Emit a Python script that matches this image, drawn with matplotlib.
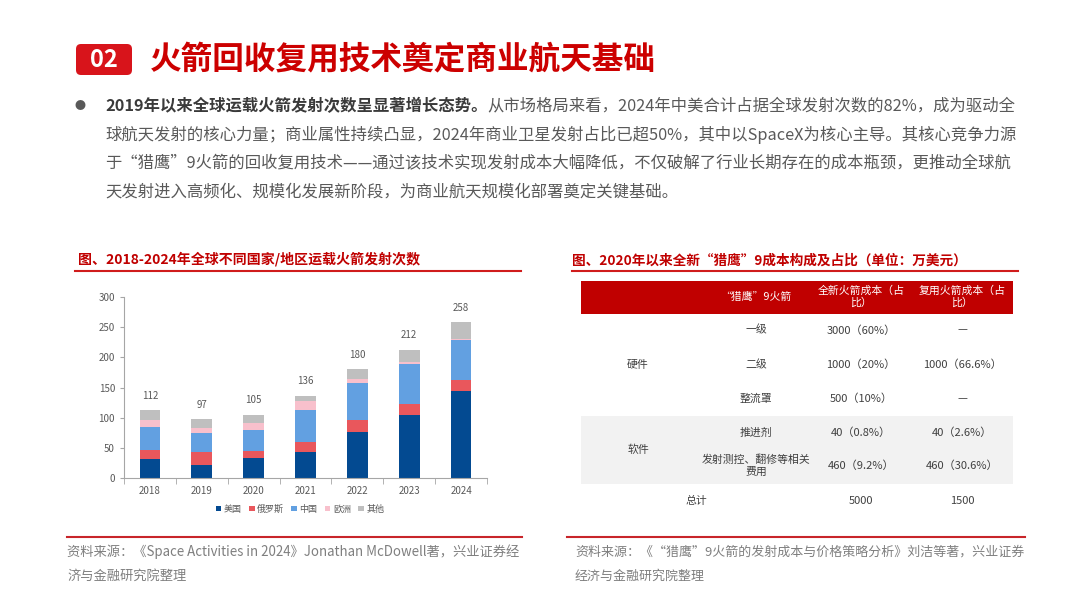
import numpy as np
import matplotlib.pyplot as plt
from matplotlib.patches import FancyBboxPatch, Rectangle
from matplotlib.lines import Line2D

plt.rcParams['font.family'] = ['Noto Sans CJK SC', 'DejaVu Sans']

# ---- bar chart data ----
years = ['2018', '2019', '2020', '2021', '2022', '2023', '2024']
usa = [31, 21, 33, 43, 76, 104, 145]
russia = [16, 22, 12, 17, 20, 19, 17]
china = [38, 32, 35, 52, 62, 66, 66]
europe = [11, 8, 11, 15, 6, 4, 3]
other = [16, 14, 14, 9, 16, 19, 27]
series_names = ['美国', '俄罗斯', '中国', '欧洲', '其他']
series_colors = ['#034a91', '#e9575c', '#62a0e1', '#f8c0cc', '#bfbfbf']

# ---- table data ----
table_header = ['', '“猎鹰”9火箭', '全新火箭成本（占\n比）', '复用火箭成本（占\n比）']
row_groups = ['硬件', '软件']
row_items = ['一级', '二级', '整流罩', '推进剂', '发射测控、翻修等相关\n费用']
new_cost = ['3000（60%）', '1000（20%）', '500（10%）', '40（0.8%）', '460（9.2%）']
reuse_cost = ['—', '1000（66.6%）', '—', '40（2.6%）', '460（30.6%）']
total_row = ['总计', '5000', '1500']

RED = '#c00000'
GRAY = '#595959'

fig = plt.figure(figsize=(10.8, 6.08), dpi=100)
bg = fig.add_axes([0, 0, 1, 1])
bg.set_xlim(0, 1080)
bg.set_ylim(608, 0)
bg.axis('off')

# header
bg.add_patch(FancyBboxPatch((76, 44), 56, 31, boxstyle='round,pad=0,rounding_size=5',
                            fc='#d8141b', ec='none'))
bg.text(104, 60, '02', color='white', fontsize=17, fontweight='bold', ha='center', va='center')
bg.text(150, 60, '火箭回收复用技术奠定商业航天基础', color='#cc0000', fontsize=22.8,
        fontweight='bold', ha='left', va='center')

# paragraph
bg.text(80, 106, '●', color=GRAY, fontsize=8, ha='center', va='center')
t0 = bg.text(105, 106, '2019年以来全球运载火箭发射次数呈显著增长态势。', color='#3a3a3a',
             fontsize=11.75, fontweight='bold', ha='left', va='center')
bg.annotate('从市场格局来看，2024年中美合计占据全球发射次数的82%，成为驱动全',
            xy=(1, 0.5), xycoords=t0, ha='left', va='center', color=GRAY, fontsize=11.75)
para = ['球航天发射的核心力量；商业属性持续凸显，2024年商业卫星发射占比已超50%，其中以SpaceX为核心主导。其核心竞争力源',
        '于“猎鹰”9火箭的回收复用技术——通过该技术实现发射成本大幅降低，不仅破解了行业长期存在的成本瓶颈，更推动全球航',
        '天发射进入高频化、规模化发展新阶段，为商业航天规模化部署奠定关键基础。']
for i, line in enumerate(para):
    bg.text(105, 135 + 28.5 * i, line, color=GRAY, fontsize=11.75, ha='left', va='center')

# section titles
bg.text(78, 259, '图、2018-2024年全球不同国家/地区运载火箭发射次数', color=RED,
        fontsize=10.05, fontweight='bold', ha='left', va='center')
bg.add_line(Line2D([75, 521], [271, 271], color='#d01c1c', lw=1.5))
bg.text(572, 261, '图、2020年以来全新“猎鹰”9成本构成及占比（单位：万美元）', color=RED,
        fontsize=9.85, fontweight='bold', ha='left', va='center')
bg.add_line(Line2D([572, 1018], [270.5, 270.5], color='#d01c1c', lw=1.5))

# sources
bg.add_line(Line2D([67, 522], [537, 537], color='#c8252a', lw=1.5))
bg.add_line(Line2D([567, 1025], [537, 537], color='#c8252a', lw=1.5))
bg.text(67, 552, '资料来源：《Space Activities in 2024》Jonathan McDowell著，兴业证券经',
        color='#7f7f7f', fontsize=9.55, ha='left', va='center')
bg.text(67, 576, '济与金融研究院整理', color='#7f7f7f', fontsize=9.55, ha='left', va='center')
bg.text(575, 552, '资料来源：《“猎鹰”9火箭的发射成本与价格策略分析》刘洁等著，兴业证券',
        color='#7f7f7f', fontsize=9.35, ha='left', va='center')
bg.text(575, 576, '经济与金融研究院整理', color='#7f7f7f', fontsize=9.35, ha='left', va='center')

# ---- table ----
col_x = [638, 756, 861, 962]
row_y = [330.5, 365, 399, 433, 466]
bg.add_patch(Rectangle((581, 281), 432, 33, fc=RED, ec='none'))
bg.add_patch(Rectangle((581, 416), 432, 68, fc='#f2f2f2', ec='none'))
for x, h in zip(col_x, table_header):
    bg.text(x, 297, h, color='white', fontsize=7.8, ha='center', va='center', linespacing=1.2)
TC = '#404040'
bg.text(col_x[0], 365, row_groups[0], color=TC, fontsize=7.8, ha='center', va='center')
bg.text(col_x[0], 449.5, row_groups[1], color=TC, fontsize=7.8, ha='center', va='center')
for y, a, b, c in zip(row_y, row_items, new_cost, reuse_cost):
    bg.text(col_x[1], y, a, color=TC, fontsize=7.8, ha='center', va='center', linespacing=1.2)
    bg.text(col_x[2], y, b, color=TC, fontsize=8, ha='center', va='center')
    bg.text(col_x[3], y, c, color=TC, fontsize=8, ha='center', va='center')
bg.text(696, 501, total_row[0], color=TC, fontsize=7.8, ha='center', va='center')
bg.text(col_x[2], 501, total_row[1], color=TC, fontsize=8, ha='center', va='center')
bg.text(col_x[3], 501, total_row[2], color=TC, fontsize=8, ha='center', va='center')

# ---- stacked bar chart ----
ax = fig.add_axes([124 / 1080, 1 - 478 / 608, 363 / 1080, 181 / 608])
x = np.arange(len(years))
data = [usa, russia, china, europe, other]
bottom = np.zeros(len(years))
handles = []
for vals, name, col in zip(data, series_names, series_colors):
    b = ax.bar(x, vals, 0.4, bottom=bottom, color=col, label=name)
    handles.append(b)
    bottom += np.array(vals)
for xi, tot in zip(x, bottom):
    ax.annotate(f'{int(tot)}', (xi, tot), xytext=(0, 7), textcoords='offset points',
                ha='center', va='bottom', fontsize=7, color=GRAY)

ax.set_xlim(-0.5, 6.5)
ax.set_ylim(0, 300)
ax.set_yticks(np.arange(0, 301, 50))
ax.set_xticks(x)
ax.set_xticklabels(years)
ax.set_xticks(np.arange(-0.5, 7, 1), minor=True)
ax.tick_params(axis='x', which='major', length=0, labelsize=7, colors=GRAY, pad=6)
ax.tick_params(axis='x', which='minor', length=4, color='#a6a6a6', direction='out')
ax.tick_params(axis='y', length=3, labelsize=7, colors=GRAY, color='#a6a6a6')
for s in ['top', 'right']:
    ax.spines[s].set_visible(False)
for s in ['left', 'bottom']:
    ax.spines[s].set_color('#a6a6a6')
ax.set_facecolor('none')

fig.legend(handles=handles, labels=series_names, loc='center', bbox_to_anchor=(300 / 1080, 1 - 509 / 608),
           ncol=5, frameon=False, fontsize=6.5, handlelength=0.6, handleheight=0.6,
           handletextpad=0.3, columnspacing=0.8, labelcolor=GRAY)

fig.savefig('out.png', dpi=100)
